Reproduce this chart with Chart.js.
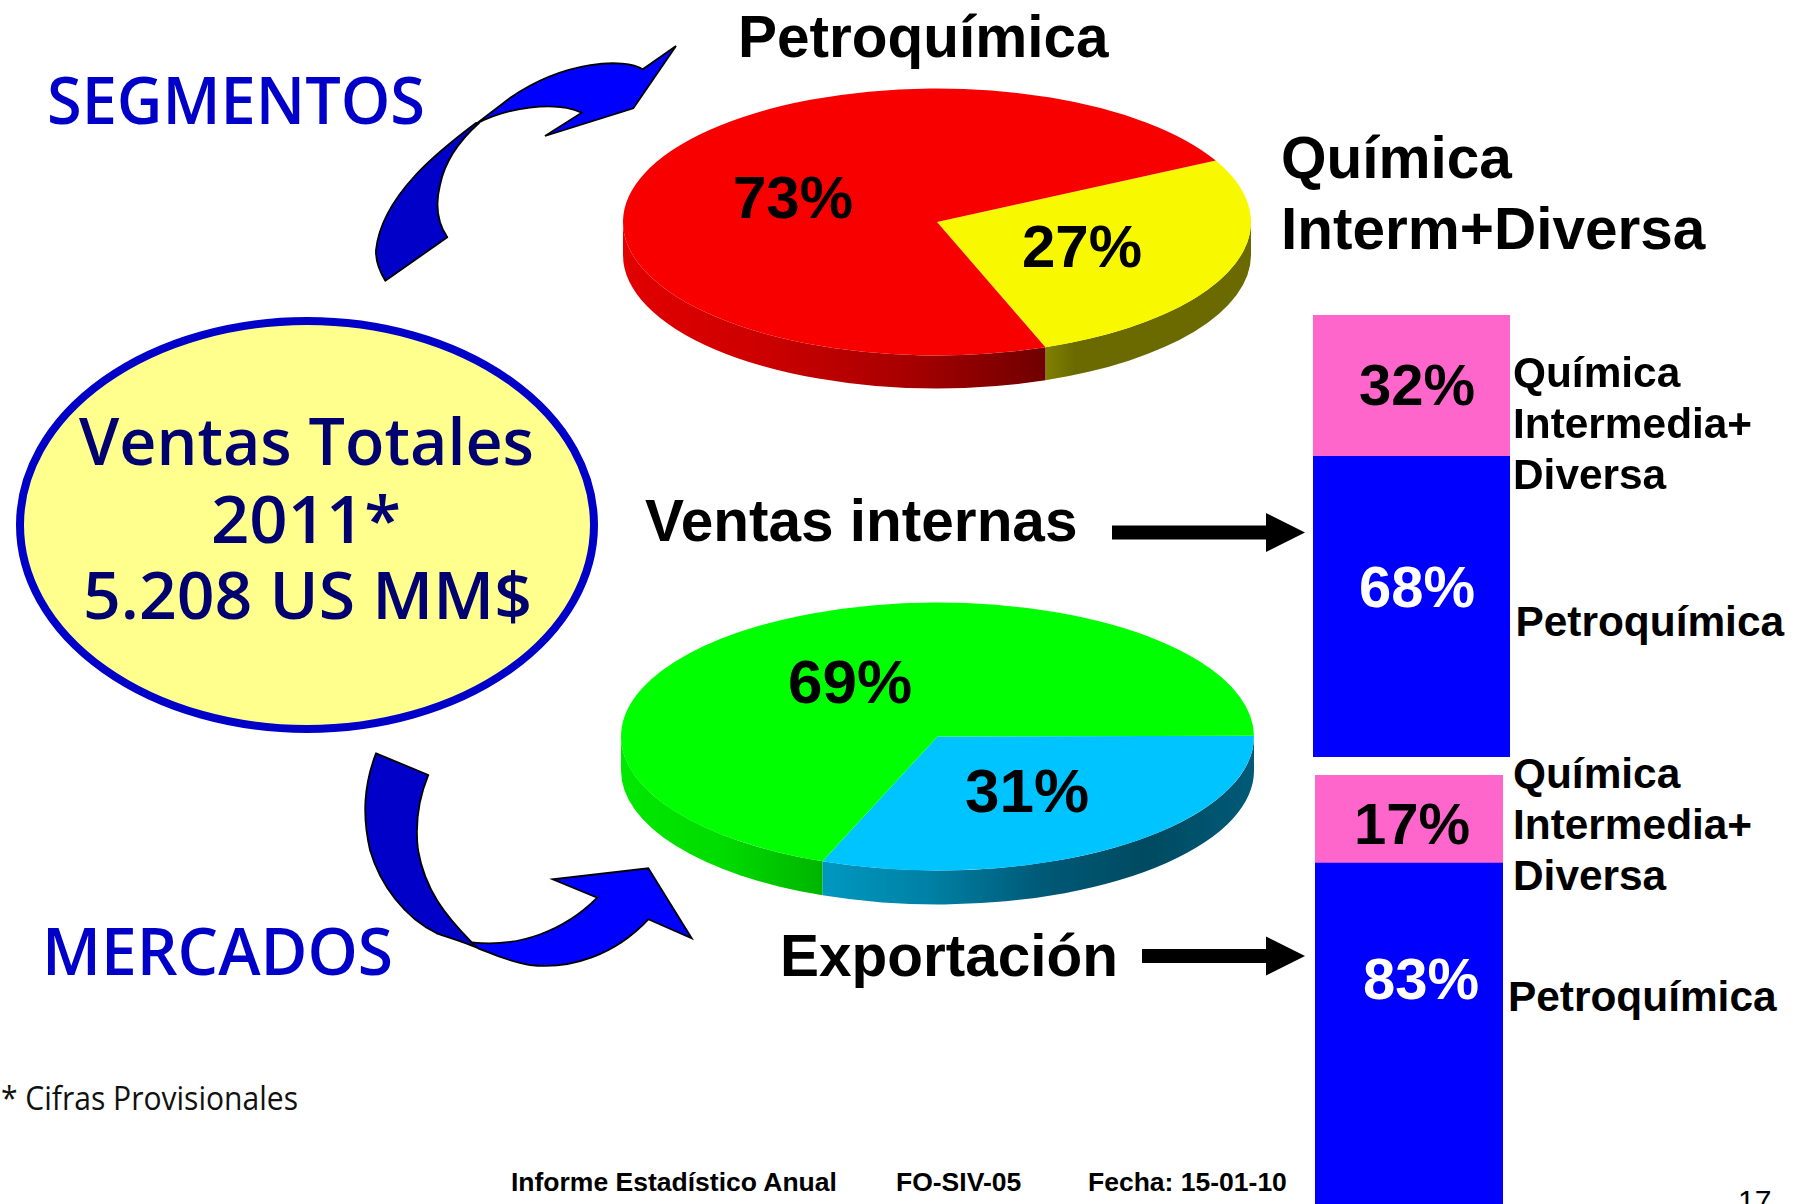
<!DOCTYPE html>
<html>
<head>
<meta charset="utf-8">
<title>Ventas Totales 2011</title>
<script src="https://cdn.jsdelivr.net/npm/chart.js@4"></script>
<style>
    html, body { margin: 0; padding: 0; background: #fff; width: 1796px; height: 1204px; overflow: hidden; }
    #page { position: relative; width: 1796px; height: 1204px; overflow: hidden; }
    #page svg { position: absolute; left: 0; top: 0; }
    #page canvas { position: absolute; }
    .txt { position: absolute; white-space: nowrap; line-height: 1; transform-origin: 0 50%; }
</style>
</head>
<body>
<div id="page">
    <svg width="1796" height="1204">
        <!-- oval -->
        <ellipse cx="307" cy="525" rx="287" ry="204" fill="#ffff8e" stroke="#0000c8" stroke-width="8"/>
        <!-- curved arrow up -->
        <path d="M476 123 C440 150 382 195 376 250 C375.5 262 380 272 385.3 280.7 L447.3 237.3 C437 222 435 205 440 185 C445 160 460 140 479 123 Z" fill="#0000c8" stroke="#000" stroke-width="1.8" stroke-linejoin="round"/>
        <path d="M476 124 C505 108 555 100 581.7 112.7 L545 136 L633.3 108.3 L676 46 L642.7 69.3 C625 58 565 60 510 98 L476 124 Z" fill="#0000ff" stroke="#000" stroke-width="1.8" stroke-linejoin="miter"/>
        <!-- curved arrow down -->
        <path d="M376 753.3 L428.3 775 C418 800 415 825 418 850 C425 890 445 915 471.7 942.3 L478.3 948.3 C462 941 450 938 436.7 933.3 C405 918 380 885 370 850 C362 815 364 785 376 753.3 Z" fill="#0000c8" stroke="#000" stroke-width="1.8" stroke-linejoin="round"/>
        <path d="M471.7 942.3 C520 948 565 930 597.3 897.7 L552.7 879.3 L648.3 868.3 L691.7 938.3 L648.3 919.3 C615 955 570 970 530 965 C510 962 495 955 478.3 948.3 Z" fill="#0000ff" stroke="#000" stroke-width="1.8" stroke-linejoin="miter"/>
        <!-- straight arrows -->
        <polygon points="1112,525.5 1266,525.5 1266,513 1305,532.5 1266,552 1266,539.5 1112,539.5" fill="#000"/>
        <polygon points="1142,949 1266,949 1266,936.5 1305,956 1266,975.5 1266,963 1142,963" fill="#000"/>
    </svg>
    <canvas id="pieSegmentos"></canvas>
    <canvas id="pieMercados"></canvas>
    <canvas id="barInternas"></canvas>
    <canvas id="barExportacion"></canvas>
</div>

<script>
    // chart values
    const segmentosLabels = ['Química Interm+Diversa', 'Petroquímica'];
    const segmentosValues = [27, 73];

    const mercadosLabels = ['Exportación', 'Ventas internas'];
    const mercadosValues = [31, 69];

    const barLabels = ['Petroquímica', 'Química Intermedia+Diversa'];
    const internasValues = [68, 32];
    const exportacionValues = [83, 17];

    const RED = '#f80000', YELLOW = '#f8f800', GREEN = '#00ff00', CYAN = '#00c4ff';
    const BLUE = '#0000ff', PINK = '#ff66cc';

    const SANS = '"Liberation Sans"', HUMAN = '"Open Sans"';
    const BASE = { '"Liberation Sans"': 0.8465, '"Open Sans"': 0.888 };
    const page = document.getElementById('page');

    // x is the left edge (or the centre with center=true), y is the baseline
    const addText = (str, x, y, size, opts = {}) => {
        const font = opts.font || SANS;
        const el = document.createElement('div');
        el.className = 'txt';
        el.textContent = str;
        el.style.font = `${opts.weight || 'bold'} ${size}px ${font}`;
        el.style.lineHeight = '1';
        el.style.color = opts.color || '#000';
        el.style.top = (y - size * BASE[font]) + 'px';
        page.appendChild(el);
        const w = el.getBoundingClientRect().width;
        const sx = opts.width ? opts.width / w : 1;
        el.style.left = (opts.center ? x - w * sx / 2 : x) + 'px';
        if (sx !== 1) el.style.transform = `scaleX(${sx})`;
    };

    // flattens the pie and draws the side wall under it from the arcs' own angles
    const pie3d = {
        id: 'pie3d',
        beforeDatasetsDraw(chart, args, opts) {
            const ctx = chart.ctx;
            const arcs = chart.getDatasetMeta(0).data;
            const { x, y, outerRadius: r } = arcs[0];
            const ry = r * opts.squash;
            arcs.forEach((arc, i) => {
                const a0 = Math.max(arc.startAngle, 0);
                const a1 = Math.min(arc.endAngle, Math.PI);
                if (a1 <= a0) return;
                const x0 = x + r * Math.cos(a1);
                const x1 = x + r * Math.cos(a0);
                const grad = ctx.createLinearGradient(x0, 0, x1, 0);
                const stops = opts.walls[i];
                stops.forEach((c, n) => grad.addColorStop(n / (stops.length - 1), c));
                ctx.beginPath();
                ctx.ellipse(x, y, r, ry, 0, a0, a1);
                ctx.ellipse(x, y + opts.depth, r, ry, 0, a1, a0, true);
                ctx.closePath();
                ctx.fillStyle = grad;
                ctx.fill();
            });
            ctx.save();
            ctx.translate(x, y);
            ctx.scale(1, opts.squash);
            ctx.translate(-x, -y);
        },
        afterDatasetsDraw(chart) {
            chart.ctx.restore();
        }
    };

    const makePie = (id, cx, cy, rx, ry, depth, labels, values, colors, rotation, walls) => {
        const pad = 6;
        const size = 2 * (rx + pad);
        const canvas = document.getElementById(id);
        canvas.width = size;
        canvas.height = size;
        canvas.style.left = (cx - rx - pad) + 'px';
        canvas.style.top = (cy - rx - pad) + 'px';
        new Chart(canvas, {
            type: 'pie',
            data: { labels: labels, datasets: [{ data: values, backgroundColor: colors, borderWidth: 0 }] },
            options: {
                responsive: false,
                animation: false,
                events: [],
                rotation: rotation,
                layout: { padding: pad },
                plugins: {
                    legend: { display: false },
                    tooltip: { enabled: false },
                    pie3d: { squash: ry / rx, depth: depth, walls: walls }
                }
            },
            plugins: [pie3d]
        });
    };

    const makeBar = (id, left, top, width, height, values) => {
        const canvas = document.getElementById(id);
        canvas.width = width;
        canvas.height = height;
        canvas.style.left = left + 'px';
        canvas.style.top = top + 'px';
        new Chart(canvas, {
            type: 'bar',
            data: {
                labels: [''],
                datasets: [
                    { label: barLabels[0], data: [values[0]], backgroundColor: BLUE },
                    { label: barLabels[1], data: [values[1]], backgroundColor: PINK }
                ]
            },
            options: {
                responsive: false,
                animation: false,
                events: [],
                barPercentage: 1,
                categoryPercentage: 1,
                layout: { padding: 0 },
                scales: {
                    x: { stacked: true, display: false },
                    y: { stacked: true, display: false, min: 0, max: 100 }
                },
                plugins: { legend: { display: false }, tooltip: { enabled: false } }
            }
        });
    };

    makePie('pieSegmentos', 937, 221.5, 314, 133.5, 33, segmentosLabels, segmentosValues, [YELLOW, RED], 62.6, [
        ['#808000', '#6a6a00', '#6a6a00', '#6a6a00', '#6a6a00', '#6a6a00', '#6a6a00', '#6a6a00'],
        ['#e20000', '#cc0000', '#a80000', '#700000']
    ]);
    makePie('pieMercados', 937.5, 736.5, 316.5, 134, 34, mercadosLabels, mercadosValues, [CYAN, GREEN], 89.7, [
        ['#0098c0', '#0080a4', '#005a78', '#004a60', '#005a78'],
        ['#00e800', '#00dc00', '#00b400']
    ]);

    makeBar('barInternas', 1313, 315, 197, 442, internasValues);
    // runs off the bottom of the page, same as the picture
    makeBar('barExportacion', 1315, 775, 188, 518, exportacionValues);

    // headings
    addText('Petroquímica', 738, 58, 58.5);
    addText('Química', 1281, 178.5, 58.5);
    addText('Interm+Diversa', 1281, 250, 58.5);
    addText('Ventas internas', 645, 542, 58.5);
    addText('Exportación', 780, 977, 58.5);
    addText('SEGMENTOS', 47, 124, 66, { font: HUMAN, weight: '600', color: '#0000c8', width: 378 });
    addText('MERCADOS', 42, 975, 66, { font: HUMAN, weight: '600', color: '#0000c8', width: 351 });

    // oval text
    addText('Ventas Totales', 306, 465, 66, { font: HUMAN, weight: '600', color: '#000070', center: true, width: 455 });
    addText('2011*', 306, 543, 66, { font: HUMAN, weight: '600', color: '#000070', center: true, width: 190 });
    addText('5.208 US MM$', 307, 619, 66, { font: HUMAN, weight: '600', color: '#000070', center: true, width: 449 });

    // pie percentages
    addText(segmentosValues[1] + '%', 793, 219, 60, { center: true });
    addText(segmentosValues[0] + '%', 1082, 268, 60, { center: true });
    addText(mercadosValues[1] + '%', 850, 703, 62, { center: true });
    addText(mercadosValues[0] + '%', 1027, 812, 62, { center: true });

    // bar percentages
    addText(internasValues[1] + '%', 1417, 405, 58, { center: true });
    addText(internasValues[0] + '%', 1417, 607, 58, { center: true, color: '#fff' });
    addText(exportacionValues[1] + '%', 1412, 844, 58, { center: true });
    addText(exportacionValues[0] + '%', 1421, 999, 58, { center: true, color: '#fff' });

    // bar captions
    addText('Química', 1513, 388, 42.4);
    addText('Intermedia+', 1513, 439, 42.4);
    addText('Diversa', 1513, 490, 42.4);
    addText('Petroquímica', 1515.5, 637, 42.4);
    addText('Química', 1513, 789, 42.4);
    addText('Intermedia+', 1513, 840, 42.4);
    addText('Diversa', 1513, 891, 42.4);
    addText('Petroquímica', 1508, 1012, 42.4);

    // footer
    addText('* Cifras Provisionales', 1, 1110, 32, { font: HUMAN, weight: 'normal', color: '#111', width: 297 });
    addText('Informe Estadístico Anual', 511, 1191, 26.5);
    addText('FO-SIV-05', 896, 1191, 26.5);
    addText('Fecha: 15-01-10', 1088, 1191, 26.5);
    addText('17', 1738, 1211, 30, { weight: 'normal' });
</script>
</body>
</html>
